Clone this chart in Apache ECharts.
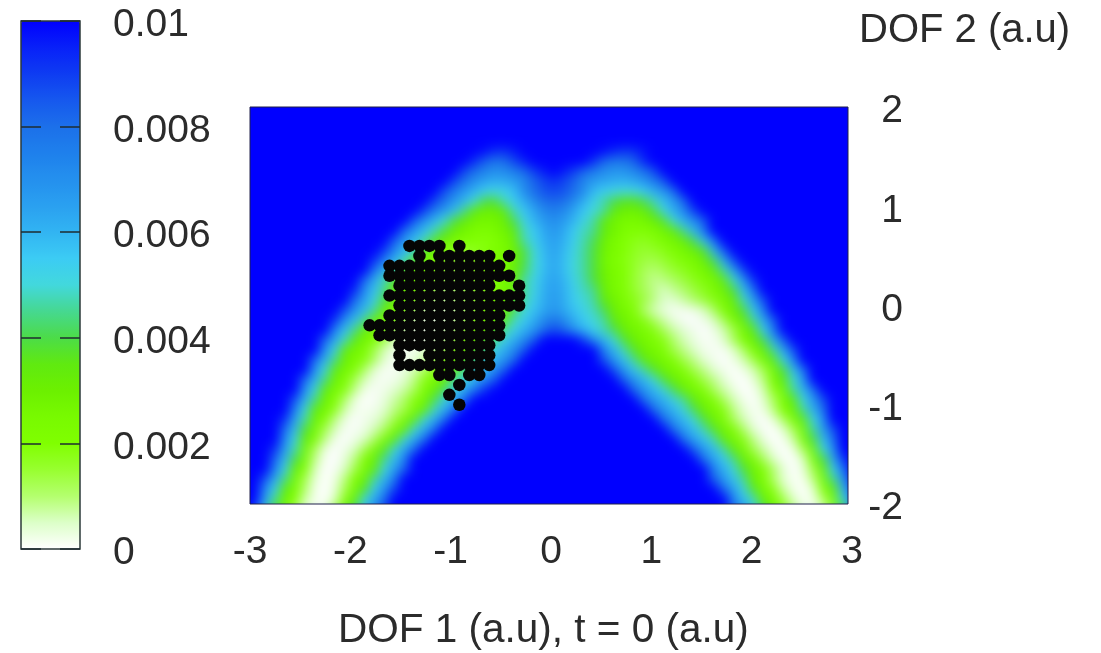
<!DOCTYPE html>
<html>
<head>
<meta charset="utf-8">
<script src="https://cdn.jsdelivr.net/npm/echarts@6/dist/echarts.min.js"></script>
<style>
html,body{margin:0;padding:0;background:#fff;width:1101px;height:653px;overflow:hidden}
#bg{position:absolute;left:250px;top:107px;width:598px;height:397px;background:#0000ff}
#c{position:absolute;left:0;top:0;width:1101px;height:653px}
#c canvas[data-zr-dom-id="zr_0"]{filter:blur(6px);clip-path:inset(107px 253px 149px 250px)}
</style>
</head>
<body>
<div id="bg"></div>
<div id="c"></div>
<script>
// Field, in units of 0.0001, top row first (y = 2.05 ... -2.05; the outermost rows and columns lie just outside the frame).
// Each segment: first column index (x = -2.95 + 0.1*i), then that run of values. Anything else is the saturated blue level.
const fieldMax = 100;
const fieldSegments = [
[],[],[],[],[],
[[23,98,93,92,96],[35,98,94,91,92,97]],
[[22,93,84,78,80,88,95],[34,92,82,77,78,82,94]],
[[21,88,80,74,70,71,75,81,90,96,100,96,90,82,76,71,68,68,72,78,86]],
[[20,88,79,71,65,62,63,66,72,82,88,92,88,82,72,67,64,62,61,63,68,76,84]],
[[19,86,77,68,61,55,52,53,58,72,80,86,88,86,80,72,59,55,52,50,51,55,62,69,80]],
[[18,88,79,68,60,50,41,39,48,55,62,72,80,82,80,72,62,53,47,41,37,37,41,48,58,67,80]],
[[17,88,76,67,58,45,35,30,30,35,48,56,64,72,76,72,64,56,50,46,35,30,29,31,39,51,61,72,88]],
[[16,83,70,60,50,39,33,28,26,27,30,41,52,60,67,71,67,60,52,46,35,28,25,24,26,30,37,50,61,70,83]],
[[15,80,68,58,48,39,31,27,23,22,24,28,35,48,55,63,68,63,55,48,45,35,28,23,20,20,22,27,33,45,59,75]],
[[14,83,68,58,48,37,30,25,21,20,19,20,25,31,47,54,61,66,61,54,47,41,30,24,20,18,17,19,22,26,30,41,57,76]],
[[13,90,72,60,49,35,28,21,17,16,17,19,21,24,29,39,50,59,65,59,52,46,39,29,24,20,17,15,16,18,21,25,29,37,59,82]],
[[12,92,74,61,49,37,28,23,17,15,15,17,19,22,25,30,39,50,58,64,58,51,46,39,27,22,19,16,14,13,15,18,20,24,29,41,61,86]],
[[12,76,62,50,35,27,22,18,15,12,14,16,18,21,25,30,41,50,58,64,58,51,46,39,29,24,20,16,12,10,12,15,17,20,25,31,46,63,88]],
[[11,80,62,48,35,29,25,20,15,11,11,13,15,17,20,25,31,46,52,60,65,60,52,47,39,30,24,20,15,12,8,9,11,14,17,20,25,33,49,66,92]],
[[10,94,70,57,45,31,26,20,17,12,9,9,12,15,17,20,25,31,46,52,61,66,61,54,48,45,31,25,20,16,12,9,5,8,10,14,17,22,28,39,58,76]],
[[10,79,65,52,39,29,23,18,14,9,7,9,12,15,17,21,26,35,47,54,62,67,62,54,50,46,35,28,22,18,14,9,5,4,7,10,14,18,23,31,48,64,86]],
[[9,86,70,58,46,31,25,20,11,6,2,3,6,9,13,20,25,30,41,50,57,63,68,63,57,52,48,41,30,25,20,11,6,3,1,1,2,5,11,20,28,39,56,74]],
[[8,92,70,58,45,31,25,20,11,6,2,2,4,7,11,18,22,27,35,48,54,62,72,78,72,62,55,50,46,35,28,23,19,12,7,3,1,0,2,5,12,23,31,46,62,83]],
[[8,74,58,45,30,24,20,11,6,2,1,3,5,9,13,20,25,31,46,52,61,68,80,88,82,70,61,54,48,41,31,27,23,19,12,7,4,2,0,2,6,13,25,35,55,74]],
[[7,82,64,49,35,26,21,13,6,2,1,2,4,7,12,20,25,31,45,52,62,72,84],[33,90,72,61,50,39,30,26,21,18,11,6,3,1,1,4,11,21,29,41,61,82]],
[[7,70,54,33,27,21,13,6,2,1,2,4,7,11,19,25,31,45,53,62,72,84],[35,74,61,48,37,30,25,21,13,9,5,2,1,1,4,11,21,30,46,63,86]],
[[6,81,61,45,30,24,19,11,4,1,2,3,7,11,19,25,33,46,53,61,69,80],[35,86,69,58,46,35,29,25,20,13,9,4,2,0,2,6,13,25,35,53,71]],
[[6,69,52,35,26,20,11,4,1,1,3,6,11,19,25,31,45,52,61,70,82],[36,86,69,57,47,37,29,25,20,13,9,4,2,0,2,6,13,25,39,58,78]],
[[5,81,61,45,29,22,13,6,2,1,2,4,9,18,24,31,45,52,62,71,83],[37,83,70,60,50,39,30,25,20,13,9,4,1,0,3,9,24,35,49,65]],
[[5,70,53,35,25,19,9,2,1,2,4,7,12,21,29,41,54,63,75,92],[38,81,69,60,51,41,30,25,20,12,7,3,0,1,6,18,26,46,60,78]],
[[4,86,61,45,29,20,11,3,0,1,3,7,11,19,25,39,53,64,77],[39,80,68,61,52,45,33,26,20,12,6,2,0,4,11,23,35,52,67,86]],
[[4,75,53,35,26,18,7,2,1,2,4,9,13,22,31,49,61,76],[40,80,68,60,51,41,30,24,19,9,4,1,2,9,20,29,46,61,79]],
[[3,92,64,47,29,20,9,3,0,2,3,7,13,23,33,51,62,78],[41,79,68,59,50,39,28,21,12,6,2,0,3,11,22,35,52,68]],
[[3,80,59,39,25,13,6,1,1,2,6,11,20,30,50,62,77],[42,78,67,58,48,37,27,20,11,4,1,0,4,12,25,46,65,86]],
[[3,72,53,33,22,9,2,0,2,5,11,21,33,51,63,78],[43,78,66,57,48,33,25,18,9,3,0,1,7,21,39,58,78]],
[[2,92,65,48,27,12,3,0,2,5,12,22,35,50,63,80],[44,83,68,58,47,33,24,13,7,2,0,2,12,27,52,68]],
[[2,82,59,41,23,9,1,0,3,9,20,29,45,58,73],[45,79,65,55,45,30,22,12,5,1,0,5,20,39,62,90]],
[[2,74,54,31,20,6,0,1,5,13,23,33,51,65,82],[46,75,62,51,39,28,20,11,4,0,3,13,30,55,76]],
[[1,86,62,45,26,13,4,0,2,9,20,28,46,60,75],[46,83,68,57,46,30,22,11,4,1,1,9,24,45,66,95]],
[[1,72,55,35,23,11,2,0,3,12,24,37,55,68,88],[47,81,65,52,37,25,18,7,2,0,4,19,31,60,85]],
[[1,65,46,29,20,7,2,0,5,18,30,50,63,80],[48,74,58,48,30,23,13,5,1,2,11,26,52,75]],
[[0,90,56,38,25,14,4,1,2,11,24,40,56,71,88],[48,80,69,54,40,28,18,9,3,1,6,18,40,66]]
];
const colBins = 62, rowBins = 42;

// Trajectory points: [y, x values]
const dotRows = [
[0.6,[-1.4,-1.3,-1.2,-1.1,-0.9]],
[0.5,[-1.3,-1.1,-1.0,-0.9,-0.8,-0.7,-0.6,-0.4]],
[0.4,[-1.6,-1.5,-1.4,-1.3,-1.2,-1.1,-1.0,-0.9,-0.8,-0.7,-0.6,-0.5]],
[0.3,[-1.6,-1.5,-1.4,-1.3,-1.2,-1.1,-1.0,-0.9,-0.8,-0.7,-0.6,-0.5,-0.4]],
[0.2,[-1.5,-1.4,-1.3,-1.2,-1.1,-1.0,-0.9,-0.8,-0.7,-0.6,-0.3]],
[0.1,[-1.6,-1.5,-1.4,-1.3,-1.2,-1.1,-1.0,-0.9,-0.8,-0.7,-0.6,-0.5,-0.4,-0.3]],
[0.0,[-1.5,-1.4,-1.3,-1.2,-1.1,-1.0,-0.9,-0.8,-0.7,-0.6,-0.5,-0.4,-0.3]],
[-0.1,[-1.6,-1.5,-1.4,-1.3,-1.2,-1.1,-1.0,-0.9,-0.8,-0.7,-0.6,-0.5]],
[-0.2,[-1.8,-1.7,-1.6,-1.5,-1.4,-1.3,-1.2,-1.1,-1.0,-0.9,-0.8,-0.7,-0.6,-0.5]],
[-0.3,[-1.7,-1.6,-1.5,-1.4,-1.3,-1.2,-1.1,-1.0,-0.9,-0.8,-0.7,-0.6,-0.5]],
[-0.4,[-1.5,-1.4,-1.3,-1.2,-1.1,-1.0,-0.9,-0.8,-0.7,-0.6]],
[-0.5,[-1.5,-1.2,-1.1,-1.0,-0.9,-0.8,-0.7,-0.6]],
[-0.6,[-1.5,-1.4,-1.3,-1.2,-1.1,-1.0,-0.9,-0.8,-0.7,-0.6]],
[-0.7,[-1.1,-1.0,-0.8,-0.7]],
[-0.8,[-0.9]],
[-0.9,[-1.0]],
[-1.0,[-0.9]]
];

const paletteStops = ['#ffffff','#dcffc8','#b4ff6e','#98ff30','#80ff00','#78fa00','#6cf000','#60ea10','#4cdc48','#46d890','#42d8dc','#3cccf4','#32b4f2','#2aa0f0','#2490ee','#1e80ec','#1c70ea','#1658ee','#0e3cf2','#0820f8','#0000ff'];

const FONT = '"Liberation Sans", Arial, sans-serif';
const FS = 39, INK = '#2b2b2b';

const heat = [];
for (let r = 0; r < rowBins; r++) {
  const row = new Array(colBins).fill(fieldMax);
  fieldSegments[r].forEach(seg => { seg.slice(1).forEach((v, k) => { row[seg[0] + 1 + k] = v; }); });
  row.forEach((v, c) => heat.push([c, rowBins - 1 - r, v * 1e-4]));
}
const dots = [];
dotRows.forEach(([y, xs]) => xs.forEach(x => dots.push([x, y])));
const idx = n => Array.from({length: n}, (_, i) => i);

const chart = echarts.init(document.getElementById('c'), null, {renderer: 'canvas', width: 1101, height: 653});
chart.setOption({
  animation: false,
  backgroundColor: 'transparent',
  tooltip: {show: false},
  title: [
    {text: 'DOF 2 (a.u)', left: 859, top: 11, padding: 0, zlevel: 1, textStyle: {fontFamily: FONT, fontSize: 40, fontWeight: 'normal', color: INK}},
    {text: 'DOF 1 (a.u), t = 0 (a.u)', left: 338, top: 610, padding: 0, zlevel: 1, textStyle: {fontFamily: FONT, fontSize: 40.5, fontWeight: 'normal', color: INK}}
  ],
  grid: [
    {left: 250, top: 107, width: 598, height: 397, show: true, borderColor: '#20204a', borderWidth: 1, backgroundColor: 'transparent', zlevel: 1},
    {left: 21, top: 21, width: 59, height: 528, show: true, borderColor: '#2c3a3a', borderWidth: 1.5, backgroundColor: 'transparent', zlevel: 1, z: 6},
    {left: 240, top: 97, width: 618, height: 417, zlevel: 0, show: false},
    {left: 250, top: 111.5, width: 602, height: 397, zlevel: 1, show: false},
    {left: 21, top: 25.5, width: 59, height: 528, zlevel: 1, show: false}
  ],
  xAxis: [
    {gridIndex: 0, type: 'value', min: -3, max: 3, interval: 1, zlevel: 1, splitLine: {show: false}, axisTick: {show: false}, axisLine: {show: false}, axisLabel: {show: false}},
    {gridIndex: 1, type: 'value', min: 0, max: 1, show: false},
    {gridIndex: 2, type: 'category', data: idx(colBins), show: false},
    {gridIndex: 3, type: 'value', min: -3, max: 3, interval: 1, zlevel: 1, splitLine: {show: false}, axisTick: {show: false}, axisLine: {show: false},
     axisLabel: {margin: 24.5, fontFamily: FONT, fontSize: FS, color: INK, showMinLabel: true, showMaxLabel: true}},
    {gridIndex: 4, type: 'value', min: 0, max: 1, show: false}
  ],
  yAxis: [
    {gridIndex: 0, type: 'value', position: 'right', min: -2, max: 2, interval: 1, show: false},
    {gridIndex: 1, type: 'value', position: 'left', min: 0, max: 0.01, interval: 0.002, zlevel: 1, z: 10, splitLine: {show: false}, axisLine: {show: false},
     axisTick: {inside: true, length: 20, lineStyle: {color: '#1e2c30', width: 1.5}}, axisLabel: {show: false}},
    {gridIndex: 1, type: 'value', position: 'right', min: 0, max: 0.01, interval: 0.002, zlevel: 1, z: 10, splitLine: {show: false}, axisLine: {show: false},
     axisTick: {inside: true, length: 20, lineStyle: {color: '#1e2c30', width: 1.5}}, axisLabel: {show: false}},
    {gridIndex: 2, type: 'category', data: idx(rowBins), show: false},
    {gridIndex: 3, type: 'value', position: 'right', min: -2, max: 2, interval: 1, zlevel: 1, splitLine: {show: false}, axisTick: {show: false}, axisLine: {show: false},
     axisLabel: {margin: 51, align: 'right', fontFamily: FONT, fontSize: FS, color: INK, showMinLabel: true, showMaxLabel: true}},
    {gridIndex: 4, type: 'value', position: 'right', min: 0, max: 0.01, interval: 0.002, zlevel: 1, splitLine: {show: false}, axisTick: {show: false}, axisLine: {show: false},
     axisLabel: {margin: 33, fontFamily: FONT, fontSize: FS, color: INK, showMinLabel: true, showMaxLabel: true}}
  ],
  visualMap: {
    type: 'continuous', seriesIndex: 0, min: 0, max: 0.01, calculable: false, hoverLink: false, realtime: false,
    left: 21, top: 21, itemWidth: 59, itemHeight: 528, padding: 0, text: null, zlevel: 1, z: 4,
    inRange: {color: paletteStops}
  },
  series: [
    {type: 'heatmap', xAxisIndex: 2, yAxisIndex: 3, data: heat, zlevel: 0, progressive: 0, silent: true, emphasis: {disabled: true}, itemStyle: {borderWidth: 0}},
    {type: 'scatter', xAxisIndex: 0, yAxisIndex: 0, data: dots, zlevel: 1, z: 3, symbol: 'circle', symbolSize: 12.5, silent: true, itemStyle: {color: '#050505', opacity: 1}}
  ]
});
</script>
</body>
</html>
